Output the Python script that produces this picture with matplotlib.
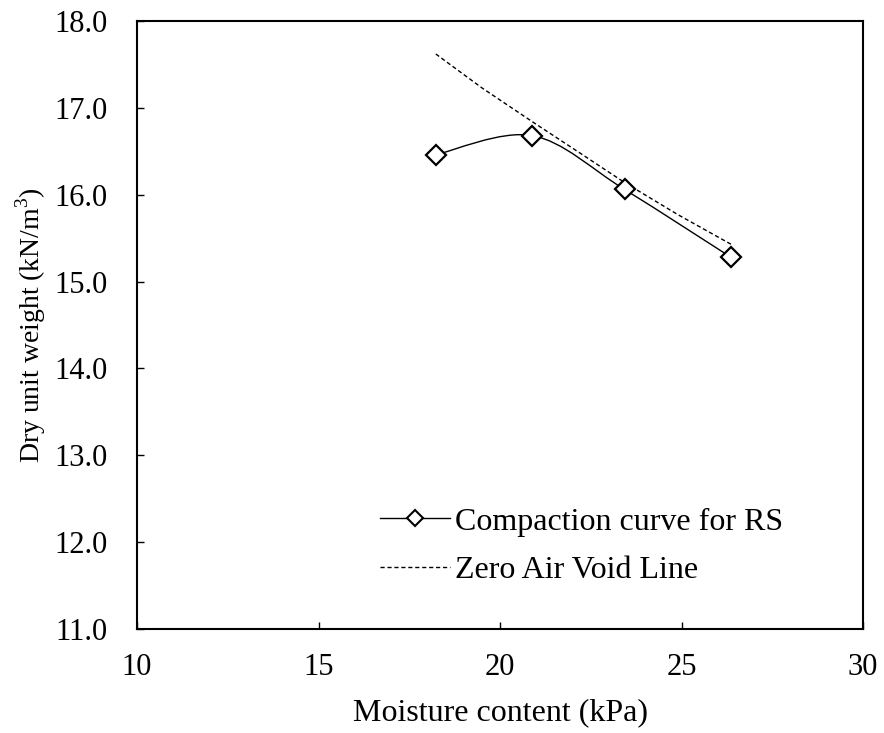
import numpy as np
import matplotlib
matplotlib.use('Agg')
import matplotlib.pyplot as plt
from matplotlib.path import Path
from matplotlib.patches import PathPatch
from matplotlib.lines import Line2D

plt.rcParams['font.family'] = ['Liberation Serif', 'DejaVu Serif']
plt.rcParams['mathtext.fontset'] = 'custom'
plt.rcParams['mathtext.rm'] = 'Liberation Serif'

# Данные: кривая уплотнения
moisture = [18.23, 20.89, 23.43, 26.36]
dry_weight = [16.46, 16.68, 16.06, 15.28]

# Линия нулевого содержания воздуха
zav_moisture = [18.23, 19.5, 20.89, 22.2, 23.43, 24.9, 26.36]
zav_weight = [17.62, 17.23, 16.84, 16.48, 16.14, 15.77, 15.43]

xticks = [10, 15, 20, 25, 30]
yticks = [11.0, 12.0, 13.0, 14.0, 15.0, 16.0, 17.0, 18.0]


def smooth_path(x, y, t=1/6):
    # сглаженная линия как в Excel (кривые Безье)
    pts = np.column_stack([x, y])
    verts = [pts[0]]
    codes = [Path.MOVETO]
    n = len(pts)
    for i in range(n - 1):
        p0 = pts[i - 1] if i > 0 else pts[i]
        p1 = pts[i]
        p2 = pts[i + 1]
        p3 = pts[i + 2] if i + 2 < n else pts[i + 1]
        c1 = p1 + (p2 - p0) * t
        c2 = p2 - (p3 - p1) * t
        verts += [c1, c2, p2]
        codes += [Path.CURVE4] * 3
    return Path(verts, codes)


fig = plt.figure(figsize=(8.84, 7.33), dpi=100)
ax = fig.add_axes([0.155, 0.1419, 0.8213, 0.8295])

ax.plot(zav_moisture, zav_weight, color='black', lw=1, linestyle=(0, (3, 2)))
ax.add_patch(PathPatch(smooth_path(moisture, dry_weight), facecolor='none',
                       edgecolor='black', lw=1))
ax.plot(moisture, dry_weight, linestyle='none', marker='D', markersize=10,
        markerfacecolor='white', markeredgecolor='black', markeredgewidth=1.6)

ax.set_xlim(10, 30)
ax.set_ylim(11, 18)
ax.set_xticks(xticks)
ax.set_yticks(yticks)
ax.set_yticklabels([f'{v:.1f}' for v in yticks])
ax.tick_params(direction='in', length=5, width=1, labelsize=22)
ax.tick_params(axis='y', pad=21)
ax.tick_params(axis='x', pad=17)
for s in ax.spines.values():
    s.set_linewidth(1.5)

ax.set_xlabel('Moisture content (kPa)', fontsize=23, labelpad=12)
ax.set_ylabel(r'Dry unit weight (kN/m$^\mathregular{3}$)', fontsize=20, labelpad=5)

handles = [Line2D([], [], color='black', lw=1, marker='D', markersize=8,
                  markerfacecolor='white', markeredgewidth=1.5),
           Line2D([], [], color='black', lw=1, linestyle=(0, (3, 2)))]
ax.legend(handles, ['Compaction curve for RS', 'Zero Air Void Line'],
          loc='lower left', bbox_to_anchor=(0.295, 0.025), frameon=False,
          fontsize=23, handlelength=2.2, handletextpad=0.15, labelspacing=0.6)

fig.savefig('out.png', dpi=100)
